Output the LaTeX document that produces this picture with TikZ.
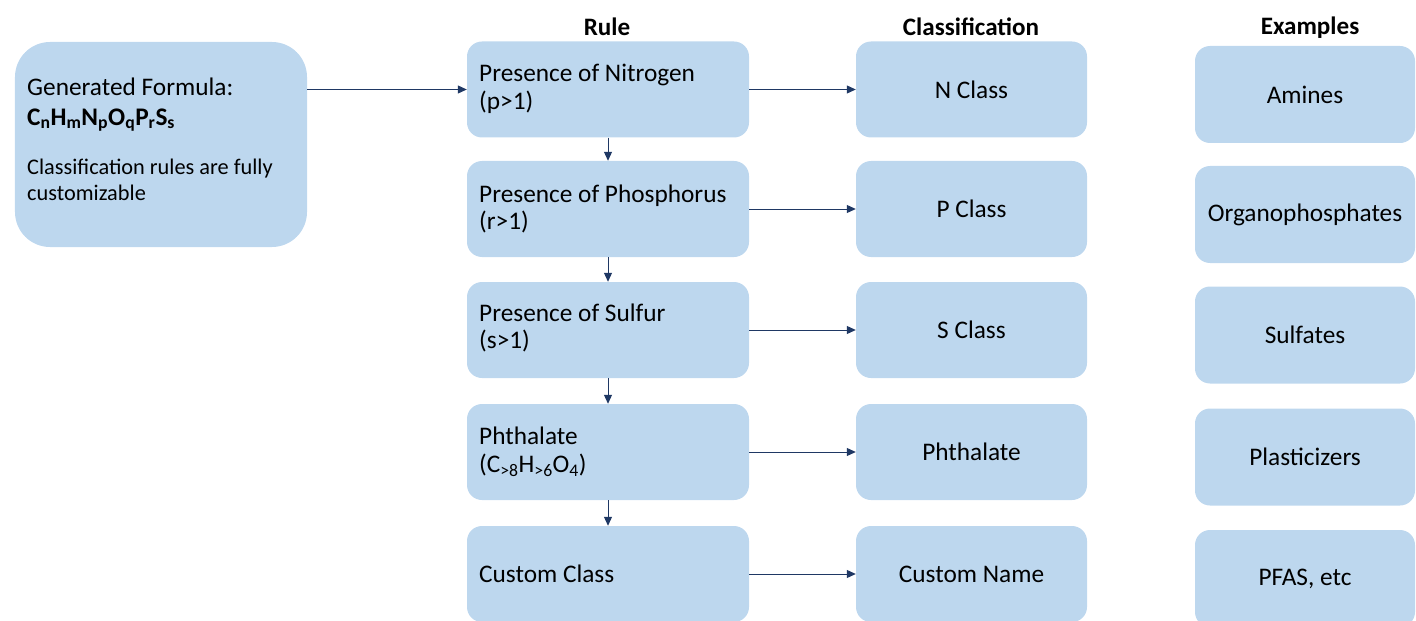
\documentclass[tikz,border=0pt]{standalone}
\usepackage{fontspec}
\setmainfont{Carlito}
\usetikzlibrary{arrows.meta}
\definecolor{boxfill}{HTML}{BDD7EE}
\definecolor{arrowc}{HTML}{1F3864}
\begin{document}
\begin{tikzpicture}[x=1bp,y=-1bp,
  font=\fontsize{25.4}{28}\selectfont,
  box/.style={fill=boxfill, draw=none, rounded corners=15bp, inner sep=0pt},
  rulebox/.style={box, minimum width=282bp, minimum height=96bp},
  ruletext/.style={anchor=west, inner sep=0pt, align=left},
  classbox/.style={box, minimum width=231bp, minimum height=96bp, align=center},
  exbox/.style={box, minimum width=220bp, minimum height=97bp, align=center},
  conn/.style={draw=arrowc, line width=1bp, -{Triangle[length=9bp,width=8bp]}},
  hdr/.style={font=\fontsize{25.2}{28}\selectfont\bfseries}
]
\useasboundingbox (0,0) rectangle (1416,621);
\clip (0,0) rectangle (1416,621);

% headers
\node[hdr] (hrule) at (607,27) {Rule};
\node[hdr] (hclass) at (971,27) {Classification};
\node[hdr] (hex) at (1310,28) {Examples};

% left box
\node[box, rounded corners=35bp, minimum width=292bp, minimum height=205bp] (gen) at (161,144.5) {};
\node[ruletext] (gen1) at (27,87) {Generated Formula:};
\node[ruletext] (gen2) at (27,120) {\textbf{C\textsubscript{n}H\textsubscript{m}N\textsubscript{p}O\textsubscript{q}P\textsubscript{r}S\textsubscript{s}}};
\node[ruletext, font=\fontsize{22.4}{26}\selectfont] (gen3) at (27,180) {Classification rules are fully\\customizable};

% rule boxes
\node[rulebox] (r1) at (608,89.5) {};
\node[rulebox] (r2) at (608,209) {};
\node[rulebox] (r3) at (608,330) {};
\node[rulebox] (r4) at (608,452) {};
\node[rulebox] (r5) at (608,574) {};
\node[ruletext] (r1t) at (479,89) {Presence of Nitrogen\\(p>1)};
\node[ruletext] (r2t) at (479,209) {Presence of Phosphorus\\(r>1)};
\node[ruletext] (r3t) at (479,328) {Presence of Sulfur\\(s>1)};
\node[ruletext] (r4t) at (479,452) {Phthalate\\(C\textsubscript{>8}H\textsubscript{>6}O\textsubscript{4})};
\node[ruletext] (r5t) at (479,574) {Custom Class};

% classification boxes
\node[classbox] (c1) at (971.5,89.5) {N Class};
\node[classbox] (c2) at (971.5,209) {P Class};
\node[classbox] (c3) at (971.5,330) {S Class};
\node[classbox] (c4) at (971.5,452) {Phthalate};
\node[classbox] (c5) at (971.5,574) {Custom Name};

% example boxes
\node[exbox] (e1) at (1305,94.5) {Amines};
\node[exbox] (e2) at (1305,214.5) {Organophosphates};
\node[exbox] (e3) at (1305,335) {Sulfates};
\node[exbox] (e4) at (1305,457) {Plasticizers};
\node[exbox] (e5) at (1305,578.5) {PFAS, etc};

% connectors
\draw[conn] (gen.east |- r1.west) -- (r1.west);
\draw[conn] (r1.east) -- (c1.west);
\draw[conn] (r2.east) -- (c2.west);
\draw[conn] (r3.east) -- (c3.west);
\draw[conn] (r4.east) -- (c4.west);
\draw[conn] (r5.east) -- (c5.west);
\draw[conn] (r1.south) -- (r2.north);
\draw[conn] (r2.south) -- (r3.north);
\draw[conn] (r3.south) -- (r4.north);
\draw[conn] (r4.south) -- (r5.north);
\end{tikzpicture}
\end{document}
